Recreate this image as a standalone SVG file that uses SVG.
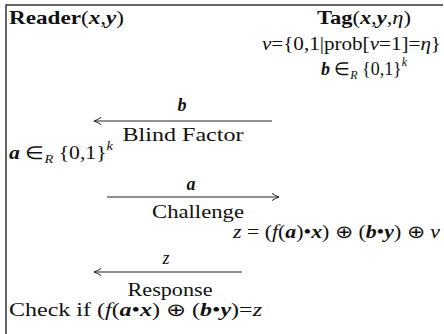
<svg xmlns="http://www.w3.org/2000/svg" width="444" height="334" viewBox="0 0 444 334">
<style>
text{font-family:"Liberation Serif","Times New Roman",serif;font-size:18px;fill:#111}
.b{font-weight:bold}
.bi{font-weight:bold;font-style:italic}
.i{font-style:italic}
.s{font-size:12px}
.m{text-anchor:middle}
.ln{stroke:#222;stroke-width:1;fill:none}
.fr{stroke:#333;stroke-width:1.5;fill:none}
</style>
<defs>
<marker id="ah" markerUnits="userSpaceOnUse" viewBox="0 0 8 10" refX="8" refY="5" markerWidth="8" markerHeight="10" orient="auto">
<path d="M1,1.5 Q5,4 8,5 Q5,6 1,8.5" stroke="#222" stroke-width="1" fill="none"/>
</marker>
</defs>
<rect width="444" height="334" fill="#fff"/>
<path class="fr" d="M6,334 V5 H443"/>
<g id="reader">
<text x="9" y="24" textLength="115" lengthAdjust="spacingAndGlyphs"><tspan class="b">Reader</tspan>(<tspan class="bi">x</tspan>,<tspan class="bi">y</tspan>)</text>
<text x="9" y="159" textLength="104" lengthAdjust="spacingAndGlyphs"><tspan class="bi">a</tspan> ∈<tspan class="s i" dy="4">R</tspan><tspan dy="-4">  {0,1}</tspan><tspan class="s i" dy="-9">k</tspan></text>
<text x="9" y="316" textLength="253" lengthAdjust="spacingAndGlyphs">Check if (<tspan class="i">f</tspan>(<tspan class="bi">a</tspan>•<tspan class="bi">x</tspan>) ⊕ (<tspan class="bi">b</tspan>•<tspan class="bi">y</tspan>)=<tspan class="i">z</tspan></text>
</g>
<g id="tag">
<text x="317" y="24" textLength="94" lengthAdjust="spacingAndGlyphs"><tspan class="b">Tag</tspan>(<tspan class="bi">x</tspan>,<tspan class="bi">y</tspan>,<tspan class="i">η</tspan>)</text>
<text x="262" y="50" textLength="179" lengthAdjust="spacingAndGlyphs"><tspan class="i">v</tspan>={0,1|prob[<tspan class="i">v</tspan>=1]=<tspan class="i">η</tspan>}</text>
<text x="321" y="75" textLength="86" lengthAdjust="spacingAndGlyphs"><tspan class="bi">b</tspan> ∈<tspan class="s i" dy="4">R</tspan><tspan dy="-4"> {0,1}</tspan><tspan class="s i" dy="-9">k</tspan></text>
<text x="233" y="238" textLength="207" lengthAdjust="spacingAndGlyphs"><tspan class="i">z</tspan> = (<tspan class="i">f</tspan>(<tspan class="bi">a</tspan>)•<tspan class="bi">x</tspan>) ⊕ (<tspan class="bi">b</tspan>•<tspan class="bi">y</tspan>) ⊕ <tspan class="i">v</tspan></text>
</g>
<g id="connectors">
<path class="ln" d="M272,121 H94" marker-end="url(#ah)"/>
<path class="ln" d="M107,197 H279" marker-end="url(#ah)"/>
<path class="ln" d="M242,272 H94" marker-end="url(#ah)"/>
<text class="bi m" x="182" y="111">b</text>
<text class="m" x="183" y="141" textLength="121" lengthAdjust="spacingAndGlyphs">Blind Factor</text>
<text class="bi m" x="191" y="190">a</text>
<text class="m" x="198" y="218" textLength="92" lengthAdjust="spacingAndGlyphs">Challenge</text>
<text class="i m" x="166" y="264">z</text>
<text class="m" x="170" y="296" textLength="85" lengthAdjust="spacingAndGlyphs">Response</text>
</g>
</svg>
